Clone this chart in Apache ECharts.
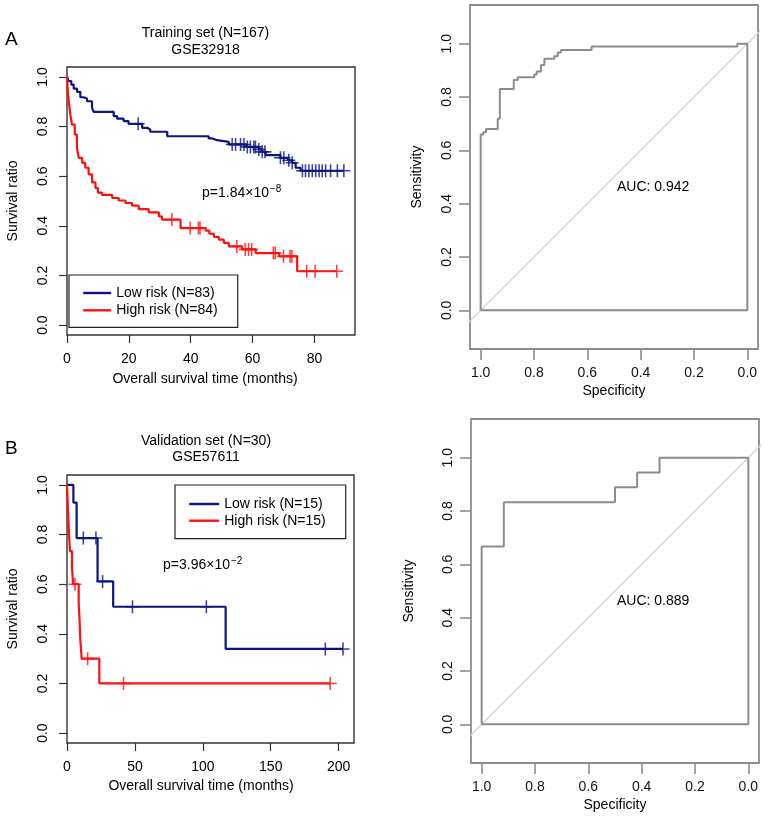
<!DOCTYPE html>
<html><head><meta charset="utf-8">
<script src="https://cdn.jsdelivr.net/npm/echarts@6/dist/echarts.min.js"></script>
<style>html,body{margin:0;padding:0;background:#fff}#c{width:765px;height:818px}</style>
</head><body><div id="c"></div>
<script>
// ---------- data ----------
const survTicks = [0, 0.2, 0.4, 0.6, 0.8, 1.0];
const rocTicks = [0, 0.2, 0.4, 0.6, 0.8, 1.0];
const trainTimeTicks = [0, 20, 40, 60, 80];
const validTimeTicks = [0, 50, 100, 150, 200];

// Training set KM (GSE32918)
const trainLowTime = [0, 0.54, 1.4, 2.16, 3.24, 4.31, 5.39, 6.47, 8.09, 8.63, 15.1, 16.2, 18.3, 19.9, 24.3, 25.9, 26.9, 32.4, 45.8, 47.0, 48.5, 52.3, 58.0, 62.0, 63.1, 64.2, 69.0, 71.5, 72.8, 73.9, 75.5];
const trainLowSurv = [1.0, 0.983, 0.969, 0.953, 0.94, 0.918, 0.913, 0.902, 0.875, 0.859, 0.842, 0.832, 0.822, 0.811, 0.795, 0.788, 0.779, 0.761, 0.752, 0.745, 0.738, 0.728, 0.718, 0.708, 0.698, 0.685, 0.674, 0.664, 0.654, 0.634, 0.622];
const trainLowCensor = [23.0, 53.4, 54.5, 56.1, 57.2, 58.3, 59.3, 60.4, 60.9, 62.0, 63.1, 64.0, 69.0, 70.1, 71.7, 72.8, 76.1, 77.1, 78.2, 79.3, 80.4, 81.5, 82.5, 83.6, 85.2, 87.4, 89.5];

const trainHighTime = [0, 0.2, 0.55, 1.1, 1.6, 2.5, 3.2, 3.8, 4.9, 5.9, 7.0, 8.1, 9.2, 10.0, 11.3, 14.6, 16.7, 18.9, 21.0, 23.2, 26.4, 29.7, 30.7, 36.7, 44.8, 46.0, 47.5, 49.1, 50.7, 52.3, 56.6, 61.0, 68.6, 74.4];
const trainHighSurv = [1.0, 0.955, 0.902, 0.848, 0.808, 0.768, 0.714, 0.674, 0.654, 0.634, 0.607, 0.575, 0.552, 0.534, 0.525, 0.512, 0.502, 0.492, 0.481, 0.467, 0.454, 0.438, 0.425, 0.391, 0.381, 0.368, 0.355, 0.344, 0.331, 0.317, 0.305, 0.29, 0.277, 0.217];
const trainHighCensor = [33.9, 39.8, 42.5, 43.0, 54.9, 57.6, 58.7, 59.7, 66.7, 67.3, 70.0, 72.1, 72.7, 77.5, 80.2, 87.2];

// Validation set KM (GSE57611)
const validLowTime = [0, 4.7, 7.1, 22.5, 34.0, 116.8];
const validLowSurv = [1.0, 0.929, 0.786, 0.611, 0.509, 0.339];
const validLowCensor = [12.0, 21.3, 26.2, 48.2, 102.6, 190.2, 203.2];

const validHighTime = [0, 0.5, 1.0, 1.5, 2.2, 3.7, 4.5, 8.6, 9.3, 9.8, 10.8, 23.8];
const validHighSurv = [1.0, 0.933, 0.867, 0.8, 0.733, 0.667, 0.6, 0.525, 0.45, 0.375, 0.3, 0.2];
const validHighCensor = [5.9, 15.2, 41.6, 193.8];

// ROC curves (specificity, sensitivity)
const rocTrainSpec = [1, 1, 0.99, 0.99, 0.98, 0.98, 0.936, 0.936, 0.928, 0.928, 0.876, 0.876, 0.861, 0.861, 0.799, 0.799, 0.79, 0.79, 0.774, 0.774, 0.761, 0.761, 0.724, 0.724, 0.711, 0.711, 0.699, 0.699, 0.584, 0.584, 0.0375, 0.0375, 0, 0, 1];
const rocTrainSens = [0, 0.659, 0.659, 0.668, 0.668, 0.68, 0.68, 0.718, 0.718, 0.83, 0.83, 0.864, 0.864, 0.874, 0.874, 0.884, 0.884, 0.896, 0.896, 0.92, 0.92, 0.943, 0.943, 0.953, 0.953, 0.967, 0.967, 0.976, 0.976, 0.989, 0.989, 1.0, 1.0, 0, 0];
const rocValidSpec = [1, 1, 0.917, 0.917, 0.5, 0.5, 0.417, 0.417, 0.333, 0.333, 0, 0, 1];
const rocValidSens = [0, 0.667, 0.667, 0.833, 0.833, 0.889, 0.889, 0.944, 0.944, 1, 1, 0, 0];

const aucTrain = '0.942';
const aucValid = '0.889';
const pTrain = ['p=1.84×10', '−8'];
const pValid = ['p=3.96×10', '−2'];
const legendTrain = ['Low risk (N=83)', 'High risk (N=84)'];
const legendValid = ['Low risk (N=15)', 'High risk (N=15)'];

// ---------- helpers ----------
const FONT = '"Liberation Sans", Arial, Helvetica, sans-serif';
const NAVY = '#0a1580';
const RED = '#ff1010';
const ROCGRAY = '#8c8c8c';
const CROSS = 'path://M44,0H56V44H100V56H56V100H44V56H0V44H44Z';

const mctx = document.createElement('canvas').getContext('2d');
function textWidth(s, size) { mctx.font = size + 'px ' + FONT; return mctx.measureText(s).width; }

function survAt(times, surv, t) {
  let s = surv[0];
  for (let i = 0; i < times.length; i++) if (times[i] <= t) s = surv[i];
  return s;
}
function kmLine(times, surv, cens) {
  const pts = times.map((t, i) => [t, surv[i]]);
  const last = Math.max(times[times.length - 1], ...cens);
  pts.push([last, surv[surv.length - 1]]);
  return pts;
}
function censorPts(times, surv, cens) { return cens.map(t => [t, survAt(times, surv, t)]); }
function zip(a, b) { return a.map((v, i) => [v, b[i]]); }

function kmX(grid, max, ticks, name, gap, padR) {
  return {
    gridIndex: grid, type: 'value', min: 0, max: max, position: 'bottom',
    name: name, nameLocation: 'middle', nameGap: gap,
    nameTextStyle: { fontSize: 14, color: '#000', fontFamily: FONT, padding: [0, padR, 0, 0] },
    axisLine: { show: false, onZero: false },
    axisTick: { show: true, inside: false, length: 8, customValues: ticks, lineStyle: { color: '#333', width: 1.2 } },
    axisLabel: { customValues: ticks, margin: 17, fontSize: 14, color: '#000', fontFamily: FONT },
    splitLine: { show: false }
  };
}
function kmY(grid) {
  return {
    gridIndex: grid, type: 'value', min: -0.04, max: 1.04, position: 'left',
    name: 'Survival ratio', nameLocation: 'middle', nameGap: 47,
    nameTextStyle: { fontSize: 14, color: '#000', fontFamily: FONT },
    axisLine: { show: false, onZero: false },
    axisTick: { show: true, inside: false, length: 8, customValues: survTicks, lineStyle: { color: '#333', width: 1.2 } },
    axisLabel: { customValues: survTicks, rotate: 90, margin: 17, fontSize: 14, color: '#000', fontFamily: FONT,
      formatter: v => v.toFixed(1) },
    splitLine: { show: false }
  };
}
function rocX(grid) {
  return {
    gridIndex: grid, type: 'value', min: -0.04, max: 1.04, inverse: true, position: 'bottom',
    name: 'Specificity', nameLocation: 'middle', nameGap: 35,
    nameTextStyle: { fontSize: 14, color: '#000', fontFamily: FONT },
    axisLine: { show: false, onZero: false },
    axisTick: { show: true, inside: false, length: 11, customValues: rocTicks, lineStyle: { color: ROCGRAY, width: 1.6 } },
    axisLabel: { customValues: rocTicks, margin: 17, fontSize: 14, color: '#111', fontFamily: FONT,
      formatter: v => v.toFixed(1) },
    splitLine: { show: false }
  };
}
function rocY(grid, gap) {
  return {
    gridIndex: grid, type: 'value', min: -0.145, max: 1.145, position: 'left',
    name: 'Sensitivity', nameLocation: 'middle', nameGap: gap,
    nameTextStyle: { fontSize: 14, color: '#000', fontFamily: FONT },
    axisLine: { show: false, onZero: false },
    axisTick: { show: true, inside: false, length: 11, customValues: rocTicks, lineStyle: { color: ROCGRAY, width: 1.6 } },
    axisLabel: { customValues: rocTicks, rotate: 90, margin: 16, fontSize: 14, color: '#111', fontFamily: FONT,
      formatter: v => v.toFixed(1) },
    splitLine: { show: false }
  };
}
function kmSeries(name, xi, color, times, surv, cens) {
  return [
    { name: name, type: 'line', xAxisIndex: xi, yAxisIndex: xi, step: 'end', symbol: 'none',
      data: kmLine(times, surv, cens), lineStyle: { color: color, width: 2.2 }, itemStyle: { color: color },
      silent: true, animation: false, z: 3 },
    { name: name + ' censored', type: 'scatter', xAxisIndex: xi, yAxisIndex: xi, symbol: CROSS, symbolSize: 13,
      data: censorPts(times, surv, cens), itemStyle: { color: color }, silent: true, animation: false, z: 4 }
  ];
}
function rocSeries(xi, spec, sens) {
  return [
    { type: 'line', xAxisIndex: xi, yAxisIndex: xi, symbol: 'none', data: [[1.3, -0.3], [-0.3, 1.3]],
      lineStyle: { color: '#d4d4d4', width: 1.3 }, silent: true, animation: false, clip: true, z: 2 },
    { type: 'line', xAxisIndex: xi, yAxisIndex: xi, symbol: 'none', data: zip(spec, sens),
      lineStyle: { color: ROCGRAY, width: 2 }, silent: true, animation: false, z: 3 }
  ];
}
function txt(x, y, text, opts) {
  opts = opts || {};
  return { type: 'text', x: x, y: y, rotation: opts.rot || 0, silent: true,
    style: { text: text, fill: opts.color || '#000', font: (opts.size || 14) + 'px ' + FONT,
      align: opts.align || 'center', verticalAlign: 'middle' } };
}
function pText(x, y, parts) {
  const w = textWidth(parts[0], 14);
  return [txt(x, y, parts[0], { align: 'left' }), txt(x + w + 1, y - 4, parts[1], { align: 'left', size: 10 })];
}
function legendOf(names, left, top, pad, itemWidth, gap) {
  return { data: names, orient: 'vertical', left: left, top: top, padding: pad,
    itemWidth: itemWidth, itemHeight: 14, itemGap: gap, selectedMode: false,
    borderColor: '#222', borderWidth: 1.2, backgroundColor: '#fff',
    itemStyle: { opacity: 0 }, lineStyle: { width: 2.4 },
    textStyle: { fontSize: 14, color: '#000', fontFamily: FONT } };
}

const chart = echarts.init(document.getElementById('c'), null, { renderer: 'canvas' });
chart.setOption({
  animation: false,
  backgroundColor: '#fff',
  grid: [
    { left: 67, top: 67, width: 288, height: 268, show: true, borderColor: '#333', borderWidth: 1.4, backgroundColor: 'transparent', outerBoundsMode: 'none' },
    { left: 470, top: 5, width: 288, height: 344, show: true, borderColor: ROCGRAY, borderWidth: 1.8, backgroundColor: 'transparent', outerBoundsMode: 'none' },
    { left: 67, top: 475, width: 287, height: 268, show: true, borderColor: '#333', borderWidth: 1.4, backgroundColor: 'transparent', outerBoundsMode: 'none' },
    { left: 471, top: 419, width: 288, height: 344, show: true, borderColor: ROCGRAY, borderWidth: 1.8, backgroundColor: 'transparent', outerBoundsMode: 'none' }
  ],
  xAxis: [
    kmX(0, 93.1, trainTimeTicks, 'Overall survival time (months)', 37, 12),
    rocX(1),
    kmX(2, 211.3, validTimeTicks, 'Overall survival time (months)', 36, 19),
    rocX(3)
  ],
  yAxis: [kmY(0), rocY(1, 46), kmY(2), rocY(3, 55)],
  legend: [
    legendOf(legendTrain, 69, 275, [11, 20, 10, 13], 28, 3.3),
    legendOf(legendValid, 175, 485, [12, 20, 11, 13], 30, 2.7)
  ],
  series: [].concat(
    kmSeries(legendTrain[0], 0, NAVY, trainLowTime, trainLowSurv, trainLowCensor),
    kmSeries(legendTrain[1], 0, RED, trainHighTime, trainHighSurv, trainHighCensor),
    rocSeries(1, rocTrainSpec, rocTrainSens),
    kmSeries(legendValid[0], 2, NAVY, validLowTime, validLowSurv, validLowCensor),
    kmSeries(legendValid[1], 2, RED, validHighTime, validHighSurv, validHighCensor),
    rocSeries(3, rocValidSpec, rocValidSens)
  ),
  graphic: [].concat(
    [txt(5, 40, 'A', { size: 19, align: 'left' }),
     txt(205.5, 33, 'Training set (N=167)'),
     txt(205.5, 50, 'GSE32918')],
    pText(202, 193, pTrain),
    [txt(617, 187, 'AUC: ' + aucTrain, { align: 'left' }),
     txt(5, 449, 'B', { size: 19, align: 'left' }),
     txt(206, 441, 'Validation set (N=30)'),
     txt(206, 457.5, 'GSE57611')],
    pText(163, 565, pValid),
    [txt(617, 600.7, 'AUC: ' + aucValid, { align: 'left' })]
  )
});
</script></body></html>
